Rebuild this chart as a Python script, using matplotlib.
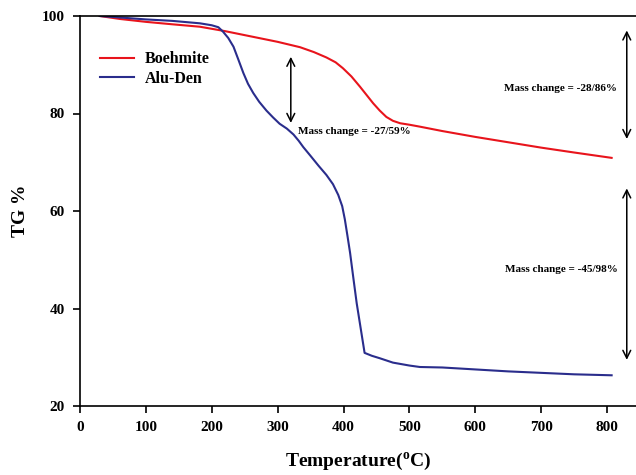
import matplotlib
matplotlib.use("Agg")
import matplotlib.pyplot as plt

plt.rcParams['font.family'] = ['Liberation Serif', 'DejaVu Serif']
plt.rcParams['mathtext.fontset'] = 'custom'
plt.rcParams['mathtext.rm'] = 'Liberation Serif:bold'

# Boehmite (red)
boeh_t = [30, 60, 100, 140, 182, 220, 260, 300, 334, 355, 374, 388, 399, 412, 425, 435, 445, 455, 465, 475, 486, 500, 516, 550, 600, 650, 700, 750, 807]
boeh_w = [100, 99.4, 98.8, 98.3, 97.8, 96.9, 95.8, 94.7, 93.6, 92.6, 91.5, 90.5, 89.3, 87.6, 85.5, 83.8, 82.1, 80.6, 79.3, 78.5, 78.0, 77.7, 77.3, 76.4, 75.2, 74.1, 73.0, 72.0, 70.9]

# Alu-Den (blue)
alu_t = [30, 60, 100, 140, 182, 200, 210, 217, 225, 233, 240, 248, 255, 263, 272, 283, 293, 303, 314, 324, 332, 339, 350, 362, 374, 384, 392, 398, 402, 406, 410, 415, 420, 426, 432, 443, 455, 475, 500, 516, 550, 600, 650, 700, 750, 807]
alu_w = [100, 99.7, 99.3, 99.0, 98.5, 98.1, 97.7, 96.8, 95.5, 93.7, 91.2, 88.3, 86.1, 84.2, 82.4, 80.6, 79.2, 77.9, 76.9, 75.7, 74.4, 73.1, 71.3, 69.3, 67.4, 65.5, 63.3, 61.0, 58.3, 54.9, 51.4, 46.2, 41.1, 36.0, 30.9, 30.3, 29.8, 28.9, 28.3, 28.0, 27.9, 27.5, 27.1, 26.8, 26.5, 26.3]

xticks = [0, 100, 200, 300, 400, 500, 600, 700, 800]
yticks = [20, 40, 60, 80, 100]

fig = plt.figure(figsize=(6.36, 4.75), dpi=100)
ax = fig.add_axes([80/636, 1-406/475, 1-80/636, (406-16)/475])

ax.plot(boeh_t, boeh_w, color='#e8141c', lw=1.5, label='Boehmite')
ax.plot(alu_t, alu_w, color='#2a2d8c', lw=1.5, label='Alu-Den')

ax.set_xlim(0, 844)
ax.set_ylim(20, 100)
ax.set_xticks(xticks)
ax.set_yticks(yticks)
for lab in ax.get_xticklabels() + ax.get_yticklabels():
    lab.set_fontweight('bold')
    lab.set_fontsize(11)
ax.tick_params(direction='out', length=5, width=1.2, pad=6)
ax.spines['right'].set_visible(False)
for s in ['left', 'bottom', 'top']:
    ax.spines[s].set_linewidth(1.2)

ax.set_xlabel('Temperature($^\\mathregular{o}$C)', fontsize=14, fontweight='bold', labelpad=12)
ax.set_ylabel('TG %', fontsize=14, fontweight='bold', labelpad=9)

leg = ax.legend(loc='upper left', bbox_to_anchor=(20/556, 0.91), frameon=False,
                borderaxespad=0, borderpad=0,
                prop={'family': 'Liberation Serif', 'weight': 'bold', 'size': 11.5},
                handlelength=2.1, handletextpad=0.7, labelspacing=0.22)

arrow_kw = dict(arrowstyle='<->', color='black', lw=1.1, mutation_scale=14)
ax.annotate('', xy=(320, 77.5), xytext=(320, 92.2), arrowprops=arrow_kw)
ax.annotate('', xy=(830, 74.2), xytext=(830, 97.6), arrowprops=arrow_kw)
ax.annotate('', xy=(830, 28.9), xytext=(830, 65.2), arrowprops=arrow_kw)

tkw = dict(fontsize=8, fontweight='bold', va='center')
ax.text(331, 76.4, 'Mass change = -27/59%', ha='left', **tkw)
ax.text(730, 85.2, 'Mass change = -28/86%', ha='center', **tkw)
ax.text(730, 48.1, 'Mass change = -45/98%', ha='center', **tkw)

fig.savefig('out.png', dpi=100)
